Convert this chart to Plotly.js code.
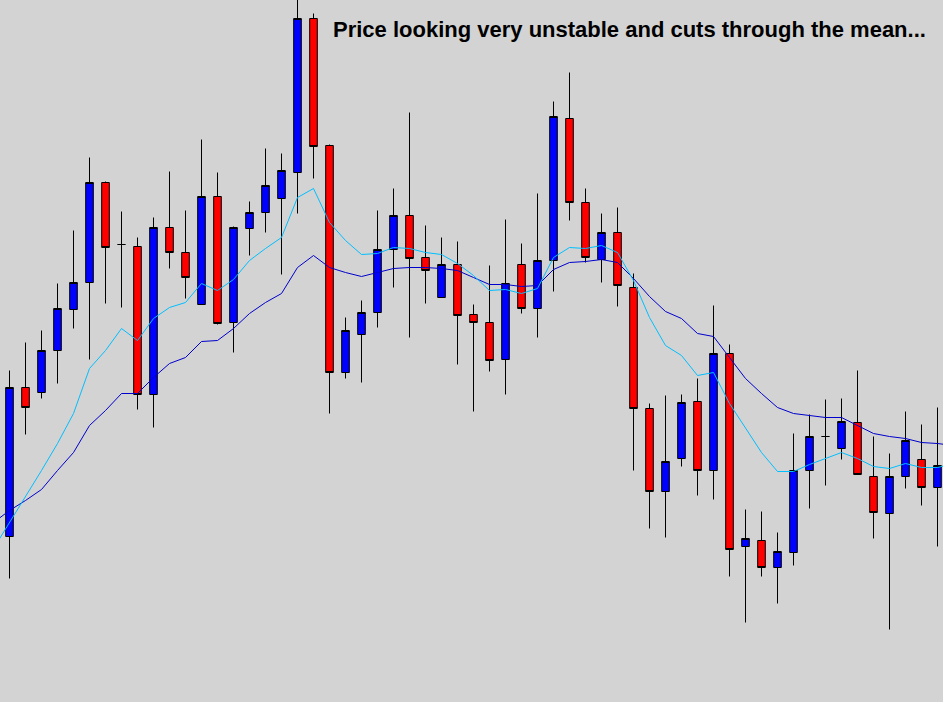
<!DOCTYPE html>
<html>
<head>
<meta charset="utf-8">
<script src="https://cdn.plot.ly/plotly-3.0.1.min.js"></script>
<style>html,body{margin:0;padding:0;background:#d3d3d3;}#chart{width:943px;height:702px;}</style>
</head>
<body>
<div id="chart"></div>
<script>
// Candle index (bar number)
const bars = [0,1,2,3,4,5,6,7,8,9,10,11,12,13,14,15,16,17,18,19,20,21,22,23,24,25,26,27,28,29,30,31,32,33,34,35,36,37,38,39,40,41,42,43,44,45,46,47,48,49,50,51,52,53,54,55,56,57,58];
const open  = [166,315,310,352,393,420,520,458,456,308,475,450,398,506,380,474,490,504,530,684,557,330,368,390,453,487,445,405,438,388,380,343,438,394,442,584,500,443,470,415,294,211,244,301,232,349,156,162,135,150,232,266,254,280,226,189,226,243,215];
const high  = [332,360,372,419,472,545,521,491,465,485,531,492,563,530,476,501,554,549,712,689,558,385,402,492,514,590,477,465,461,398,437,483,459,509,601,630,514,489,495,429,299,307,308,324,397,358,193,191,170,269,288,303,304,332,266,249,291,278,295];
const low   = [124,268,304,319,374,343,399,395,293,275,434,404,398,378,350,447,470,428,489,524,289,324,320,375,415,365,399,405,338,291,331,308,389,365,411,482,440,420,396,232,174,165,236,207,203,126,80,126,99,137,194,217,243,228,164,73,214,197,156];
const close = [315,295,352,394,420,520,455,458,308,475,450,425,506,379,475,490,517,532,684,556,330,372,390,453,487,444,432,438,387,380,342,419,394,442,586,500,445,470,417,294,211,241,300,232,349,153,164,135,151,232,266,266,281,228,190,226,262,215,237];

// Moving averages (one bar before the first candle through one after the last)
const maBars = [-1,0,1,2,3,4,5,6,7,8,9,10,11,12,13,14,15,16,17,18,19,20,21,22,23,24,25,26,27,28,29,30,31,32,33,34,35,36,37,38,39,40,41,42,43,44,45,46,47,48,49,50,51,52,53,54,55,56,57,58,59];
const maFast = [154,180,205,232,259,289,334,352,374,362,384,395,400,419,412,423,442,454,465,505,514,480,462,448,449,455,454,450,448,439,427,412,413,409,414,445,455,454,457,450,422,385,357,347,327,330,299,275,250,231,231,238,244,250,244,236,234,239,235,235,239];
const maSlow = [180,192,202,213,232,250,277,292,309,309,325,339,345,361,362,374,389,400,409,435,447,435,430,426,430,434,435,435,434,432,425,418,418,416,417,433,440,441,443,440,424,406,391,384,369,366,345,324,309,295,289,287,285,285,277,269,266,264,260,259,257];

const note = "Price looking very unstable and cuts through the mean...";

const traces = [
  {
    type: 'scatter', mode: 'lines', x: maBars, y: maSlow,
    line: {color: '#0000cd', width: 1}, hoverinfo: 'skip'
  },
  {
    type: 'scatter', mode: 'lines', x: maBars, y: maFast,
    line: {color: '#00bfff', width: 1}, hoverinfo: 'skip'
  },
  {
    type: 'candlestick', x: bars, open: open, high: high, low: low, close: close,
    increasing: {line: {color: '#000000', width: 1}, fillcolor: '#0000ff'},
    decreasing: {line: {color: '#000000', width: 1}, fillcolor: '#ff0000'},
    whiskerwidth: 0
  }
];

const layout = {
  width: 943, height: 702,
  margin: {l: 0, r: 0, t: 0, b: 0, pad: 0},
  paper_bgcolor: '#d3d3d3', plot_bgcolor: '#d3d3d3',
  showlegend: false,
  boxgap: 0.32,
  xaxis: {range: [-0.59375, 58.34375], visible: false, rangeslider: {visible: false}, fixedrange: true},
  yaxis: {range: [0.5, 702.5], visible: false, fixedrange: true},
  annotations: [{
    text: '<b>' + note + '</b>',
    xref: 'paper', yref: 'paper', x: 331/943, y: 1 - 30/702,
    xanchor: 'left', yanchor: 'middle', showarrow: false,
    font: {family: 'Liberation Sans, Arial, sans-serif', size: 22, color: '#000000'}
  }]
};

Plotly.newPlot('chart', traces, layout, {staticPlot: true, displayModeBar: false});
</script>
</body>
</html>
